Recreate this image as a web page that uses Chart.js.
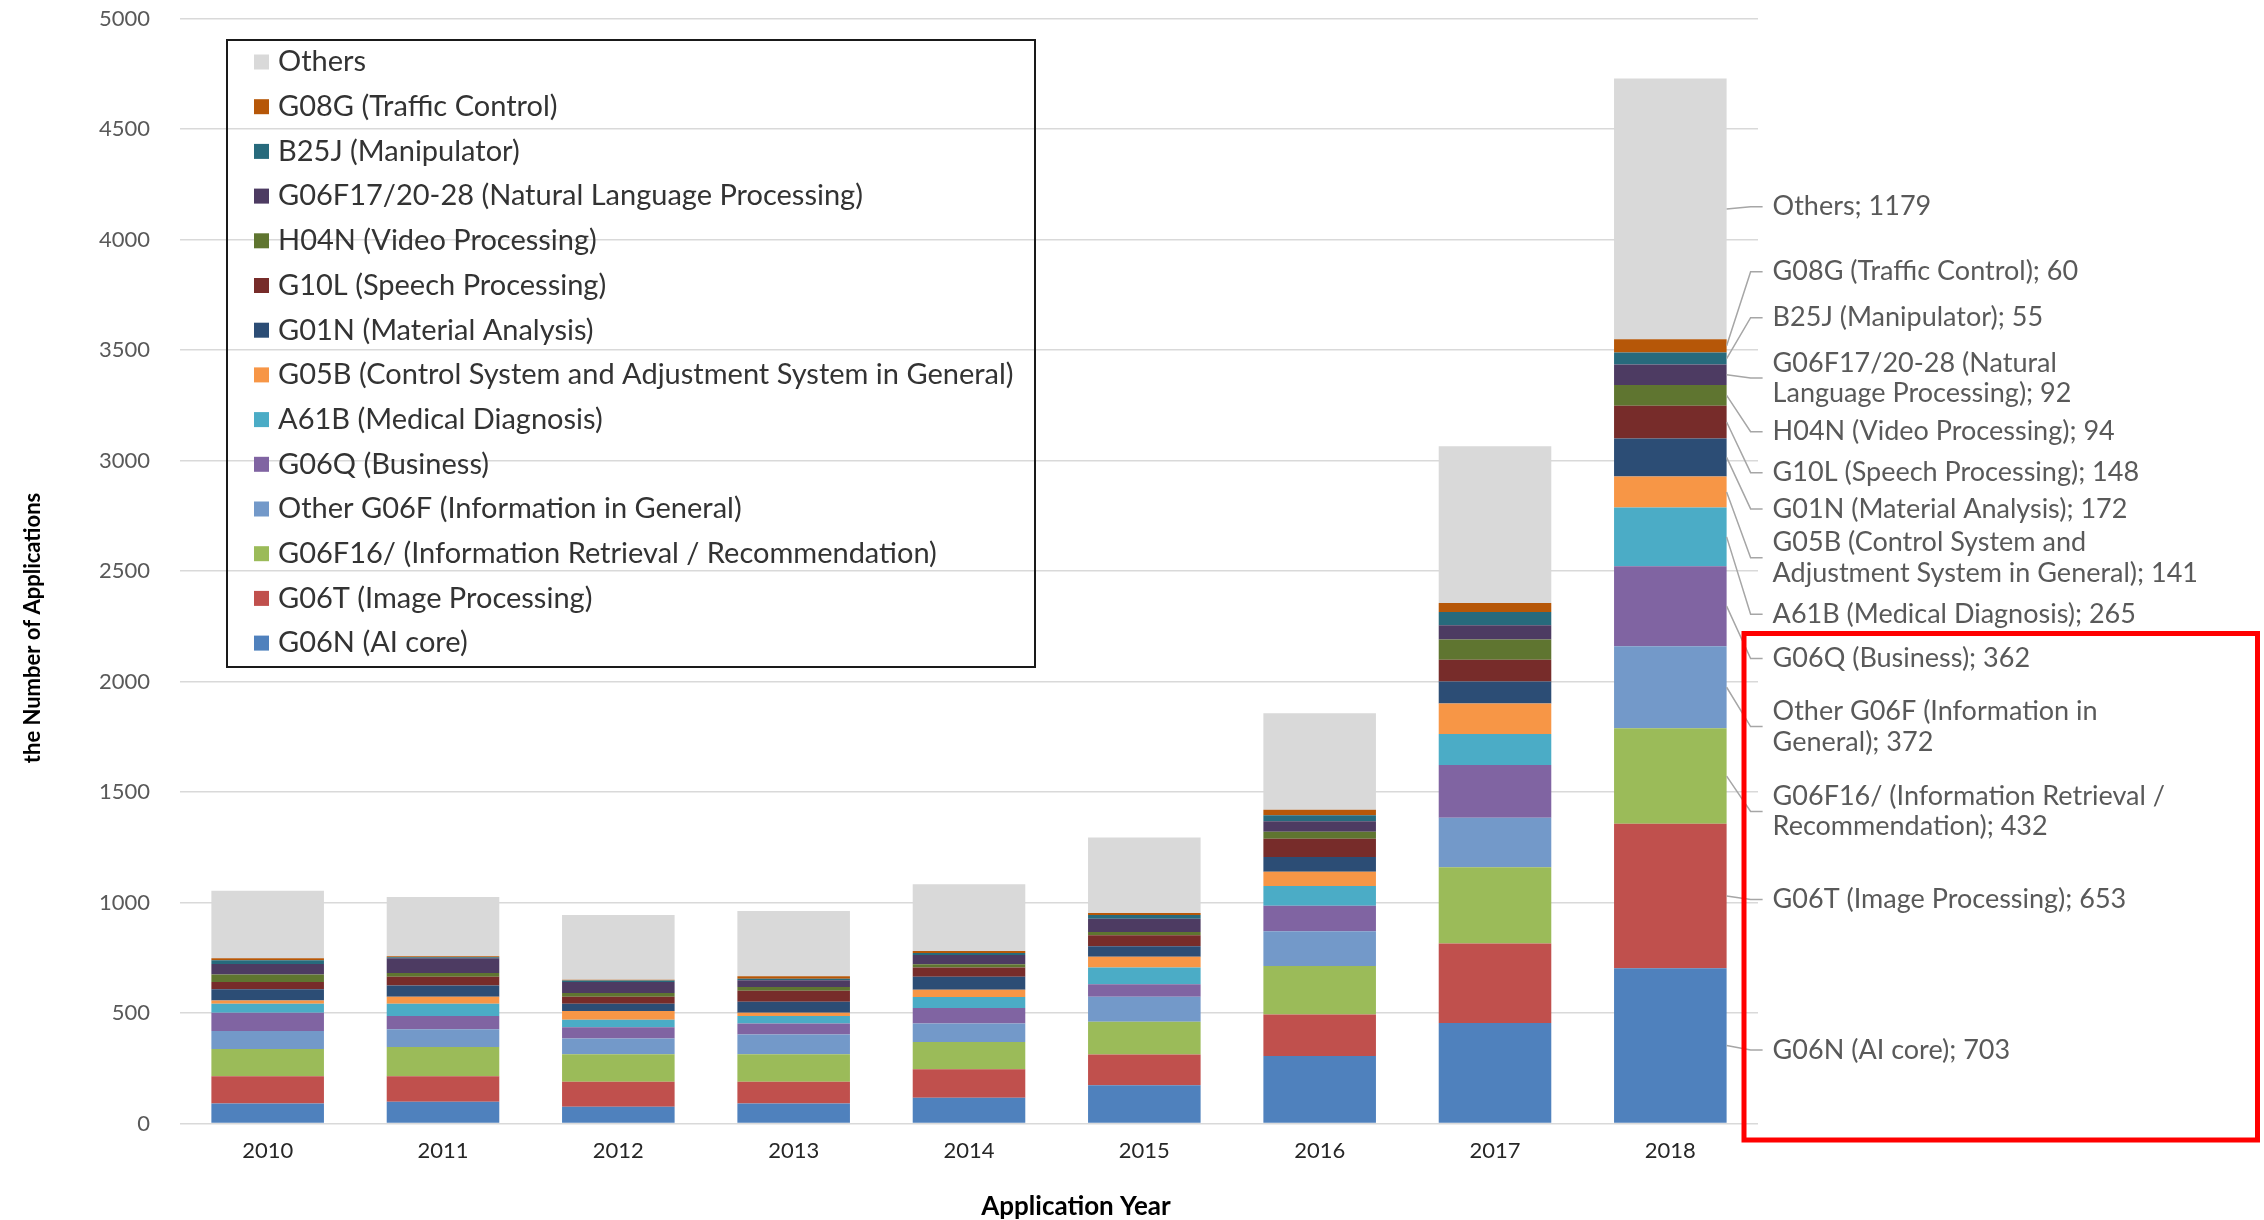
<!DOCTYPE html>
<html>
<head>
<meta charset="utf-8">
<script src="https://cdn.jsdelivr.net/npm/chart.js@4.4.1/dist/chart.umd.min.js"></script>
<style>
  html, body { margin: 0; background: #fff; }
  #wrap { width: 2264px; height: 1220px; }
</style>
</head>
<body>
<div id="wrap"><canvas id="chart" width="2264" height="1220"></canvas></div>
<script>
// ── Data (bottom segment first) ──────────────────────────────────
const YEARS   = ['2010', '2011', '2012', '2013', '2014', '2015', '2016', '2017', '2018'];
const Y_TICKS = [0, 500, 1000, 1500, 2000, 2500, 3000, 3500, 4000, 4500, 5000];

const G06N      = [91, 98, 76, 91, 116, 173, 305, 455, 703];
const G06T      = [123, 116, 113, 98, 130, 139, 188, 360, 653];
const G06F16    = [123, 132, 124, 124, 123, 148, 220, 344, 432];
const OTHER_G06F= [81, 80, 72, 90, 83, 113, 157, 224, 372];
const G06Q      = [83, 60, 50, 49, 71, 57, 115, 239, 362];
const A61B      = [41, 56, 35, 34, 49, 76, 90, 140, 265];
const G05B      = [15, 32, 39, 15, 33, 48, 64, 139, 141];
const G01N      = [50, 51, 33, 50, 59, 48, 67, 99, 172];
const G10L      = [33, 39, 32, 50, 42, 50, 83, 98, 148];
const H04N      = [34, 17, 17, 17, 15, 15, 31, 92, 94];
const G06F17    = [48, 67, 49, 30, 41, 60, 48, 64, 92];
const B25J      = [17, 4, 7, 7, 9, 16, 27, 60, 55];
const G08G      = [9, 5, 4, 11, 10, 10, 25, 41, 60];
const OTHERS    = [305, 268, 293, 296, 302, 341, 436, 709, 1179];

const SERIES = [
  'G06N (AI core)',
  'G06T (Image Processing)',
  'G06F16/ (Information Retrieval / Recommendation)',
  'Other G06F (Information in General)',
  'G06Q (Business)',
  'A61B (Medical Diagnosis)',
  'G05B (Control System and Adjustment System in General)',
  'G01N (Material Analysis)',
  'G10L (Speech Processing)',
  'H04N (Video Processing)',
  'G06F17/20-28 (Natural Language Processing)',
  'B25J (Manipulator)',
  'G08G (Traffic Control)',
  'Others',
];
const VALUES = [G06N, G06T, G06F16, OTHER_G06F, G06Q, A61B, G05B, G01N, G10L, H04N, G06F17, B25J, G08G, OTHERS];

// ── Styling / layout ─────────────────────────────────────────────
const COLORS = ['#4f81bd', '#c0504d', '#9bbb59', '#7399c9', '#8064a2', '#4bacc6', '#f79646',
                '#2c4d75', '#772c2a', '#5f7530', '#4d3b62', '#276a7c', '#b65708', '#d9d9d9'];
// where the 2018 callouts sit, in axis units (Excel spreads them out)
const LABEL_AT   = [333, 1014, 1412, 1796, 2104, 2304, 2560, 2781, 2945, 3130, 3373, 3646, 3854, 4148];
// words kept on the first line of a wrapped callout (0 = no wrap)
const LABEL_WRAP = [0, 0, 4, 4, 0, 0, 4, 0, 0, 0, 2, 0, 0, 0];
const FONT = 'Lato, "Open Sans", sans-serif';

const overlay = {
  id: 'overlay',
  afterDraw(chart) {
    const ctx = chart.ctx;
    const y = chart.scales.y;
    ctx.save();

    // ── legend box (reverse order, like Excel) ──
    ctx.strokeStyle = '#1a1a1a';
    ctx.lineWidth = 2;
    ctx.strokeRect(227, 40, 808, 627);
    ctx.font = `29px ${FONT}`;
    ctx.textBaseline = 'middle';
    ctx.textAlign = 'left';
    chart.data.datasets.slice().reverse().forEach((ds, i) => {
      const cy = 62 + i * 44.7;
      ctx.fillStyle = ds.backgroundColor;
      ctx.fillRect(254, cy - 7.5, 15, 15);
      ctx.fillStyle = '#333';
      ctx.fillText(ds.label, 278, cy);
    });

    // ── 2018 callouts with leader lines ──
    const last = YEARS.length - 1;
    ctx.font = `27px ${FONT}`;
    chart.data.datasets.forEach((ds, i) => {
      const bar = chart.getDatasetMeta(i).data[last];
      const right = bar.x + bar.width / 2;
      const mid = (bar.y + bar.base) / 2;
      const ly = y.getPixelForValue(LABEL_AT[i]);
      ctx.strokeStyle = '#a6a6a6';
      ctx.lineWidth = 1.5;
      ctx.beginPath();
      ctx.moveTo(right, mid);
      ctx.lineTo(right + 24, ly);
      ctx.lineTo(right + 36, ly);
      ctx.stroke();

      const text = `${ds.label}; ${ds.data[last]}`;
      const words = text.split(' ');
      const k = LABEL_WRAP[i];
      const lines = k ? [words.slice(0, k).join(' '), words.slice(k).join(' ')] : [text];
      ctx.fillStyle = '#595959';
      lines.forEach((ln, j) => {
        ctx.fillText(ln, right + 46, ly + (j - (lines.length - 1) / 2) * 30.5);
      });
    });

    // ── axis titles ──
    ctx.fillStyle = '#000';
    ctx.font = `bold 26px ${FONT}`;
    ctx.textAlign = 'center';
    ctx.fillText('Application Year', 1076, 1207);
    ctx.save();
    ctx.translate(33, 628);
    ctx.rotate(-Math.PI / 2);
    ctx.font = `bold 22px ${FONT}`;
    ctx.fillText('the Number of Applications', 0, 0);
    ctx.restore();

    // ── red highlight box ──
    ctx.strokeStyle = '#ff0000';
    ctx.lineWidth = 5;
    ctx.strokeRect(1744, 633.5, 513.5, 506.5);
    ctx.restore();
  }
};

new Chart(document.getElementById('chart'), {
  type: 'bar',
  data: {
    labels: YEARS,
    datasets: VALUES.map((vals, i) => ({
      label: SERIES[i],
      data: vals,
      backgroundColor: COLORS[i],
      borderWidth: 0,
      barPercentage: 0.642,
      categoryPercentage: 1,
    })),
  },
  options: {
    responsive: false,
    animation: false,
    devicePixelRatio: 1,
    layout: { padding: { top: 18.5, right: 506, bottom: 0, left: 0 } },
    plugins: { legend: { display: false }, tooltip: { enabled: false } },
    scales: {
      x: {
        stacked: true,
        grid: { display: false, drawTicks: false },
        border: { display: false },
        ticks: { color: '#262626', font: { family: FONT, size: 22 }, padding: 14 },
        afterFit: s => { s.height = 96.5; s.paddingLeft = 0; s.paddingRight = 0; },
      },
      y: {
        stacked: true,
        min: 0, max: 5000,
        afterBuildTicks: s => { s.ticks = Y_TICKS.map(v => ({ value: v })); },
        grid: { color: '#d9d9d9', lineWidth: 1.5, drawTicks: false },
        border: { display: false },
        ticks: { color: '#595959', font: { family: FONT, size: 22 }, padding: 30, callback: v => String(v) },
        afterFit: s => { s.width = 180; s.paddingTop = 0; s.paddingBottom = 0; },
      },
    },
  },
  plugins: [overlay],
});
</script>
</body>
</html>
